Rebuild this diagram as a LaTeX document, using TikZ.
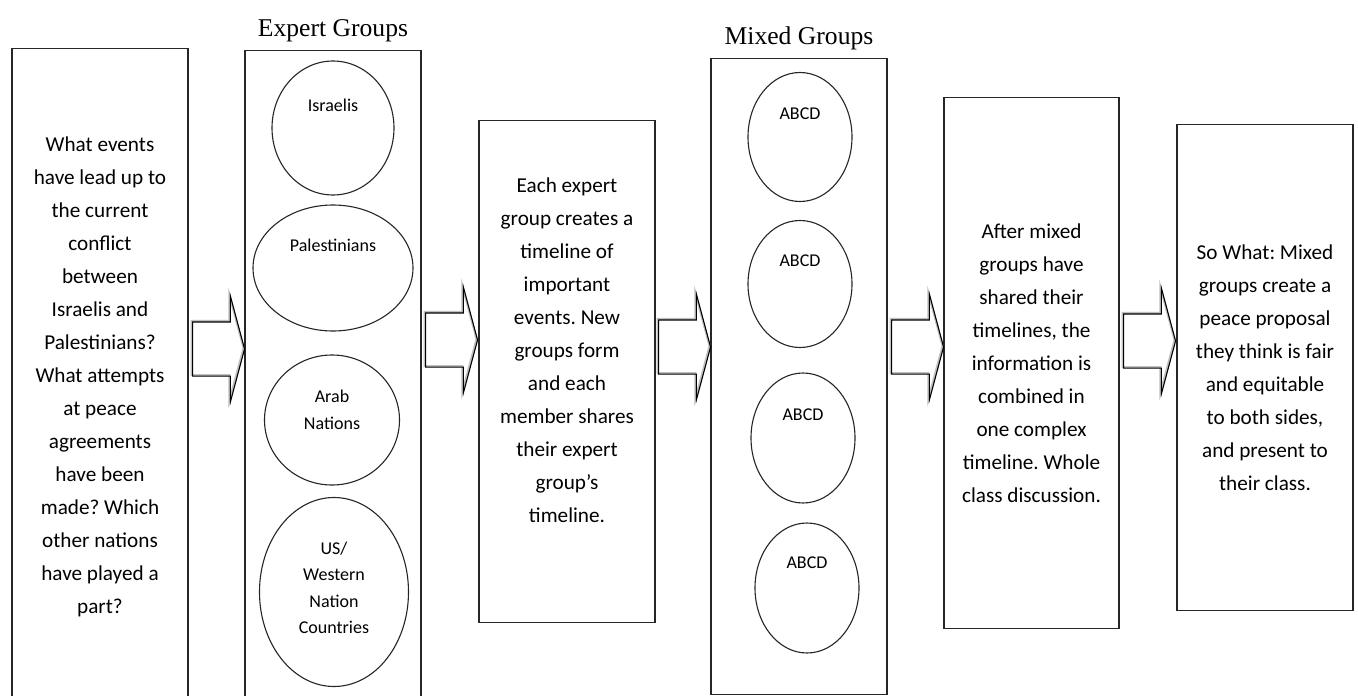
\documentclass[tikz,border=0pt]{standalone}
\usepackage{fontspec}
\setmainfont{Carlito}
\newfontfamily\headfont{Liberation Serif}
\usetikzlibrary{shapes.geometric,shapes.arrows}
\frenchspacing

\tikzset{
  panel/.style={draw=black!85, line width=1.2pt, minimum width=176pt, inner sep=0pt,
    anchor=north, align=center, font=\fontsize{21.2}{33}\selectfont},
  grp/.style={ellipse, draw=black!85, line width=1.1pt, inner sep=0pt},
  grplbl/.style={align=center, font=\fontsize{18}{26.5}\selectfont},
  heading/.style={font=\headfont\fontsize{25.6}{30}\selectfont, yshift=5pt},
  blockarrow/.style={single arrow, draw=black, line width=1.1pt, anchor=tail,
    minimum height=52pt, inner xsep=0pt, inner ysep=26.5pt,
    single arrow head extend=26pt, single arrow tip angle=150,
    preaction={draw=gray!50, line width=2pt, transform canvas={shift={(-1pt,1pt)}}}}
}

\begin{document}
\begin{tikzpicture}[x=1pt, y=-1pt]
\useasboundingbox[fill=white] (0,0) rectangle (1358,696);
\clip (0,0) rectangle (1358,696);

% the six columns
\node[panel, minimum height=656pt] (ques) at (100,48) {What events\\have lead up to\\the current\\conflict\\between\\Israelis and\\Palestinians?\\What attempts\\at peace\\agreements\\have been\\made? Which\\other nations\\have played a\\part?};
\node[panel, minimum height=680pt, label={[heading]above:Expert Groups}] (expert) at (333,50) {};
\node[panel, minimum height=502pt, label={[panel, anchor=center, draw=none, yshift=21pt]center:{Each expert\\group creates a\\timeline of\\important\\events. New\\groups form\\and each\\member shares\\their expert\\group's\\timeline.}}] (task) at (567,120) {};
\node[panel, minimum height=636pt, label={[heading]above:Mixed Groups}] (mixed) at (799,58) {};
\node[panel, minimum width=175pt, minimum height=531pt] (share) at (1031.5,97) {After mixed\\groups have\\shared their\\timelines, the\\information is\\combined in\\one complex\\timeline. Whole\\class discussion.};
\node[panel, minimum height=486pt] (sowhat) at (1265,124) {So What: Mixed\\groups create a\\peace proposal\\they think is fair\\and equitable\\to both sides,\\and present to\\their class.};

% expert groups
\node[grp, minimum width=122pt, minimum height=134pt, label={[grplbl, yshift=23pt]center:Israelis}] (isr) at (333,128) {};
\node[grp, minimum width=160pt, minimum height=126pt, label={[grplbl, yshift=23pt]center:Palestinians}] (pal) at (333,268) {};
\node[grp, minimum width=135pt, minimum height=130pt, label={[grplbl, yshift=10pt]center:{Arab\\Nations}}] (arab) at (332,420) {};
\node[grp, minimum width=149pt, minimum height=189pt, label={[grplbl, yshift=4pt]center:{US/\\Western\\Nation\\Countries}}] (west) at (334,592) {};

% mixed groups
\node[grp, minimum width=104pt, minimum height=129pt, label={[grplbl, yshift=23pt]center:ABCD}] (mixa) at (800,137) {};
\node[grp, minimum width=104pt, minimum height=127pt, label={[grplbl, yshift=23pt]center:ABCD}] (mixb) at (800,284) {};
\node[grp, minimum width=104pt, minimum height=130pt, label={[grplbl, yshift=23pt]center:ABCD}] (mixc) at (803,438) {};
\node[grp, minimum width=104pt, minimum height=130pt, label={[grplbl, yshift=25pt]center:ABCD}] (mixd) at (807,588) {};

% block arrows between the columns
\node[blockarrow] (arra) at (192,349) {};
\node[blockarrow] (arrb) at (425,340) {};
\node[blockarrow] (arrc) at (658,347) {};
\node[blockarrow] (arrd) at (891,347) {};
\node[blockarrow] (arre) at (1123,341) {};
\end{tikzpicture}
\end{document}
